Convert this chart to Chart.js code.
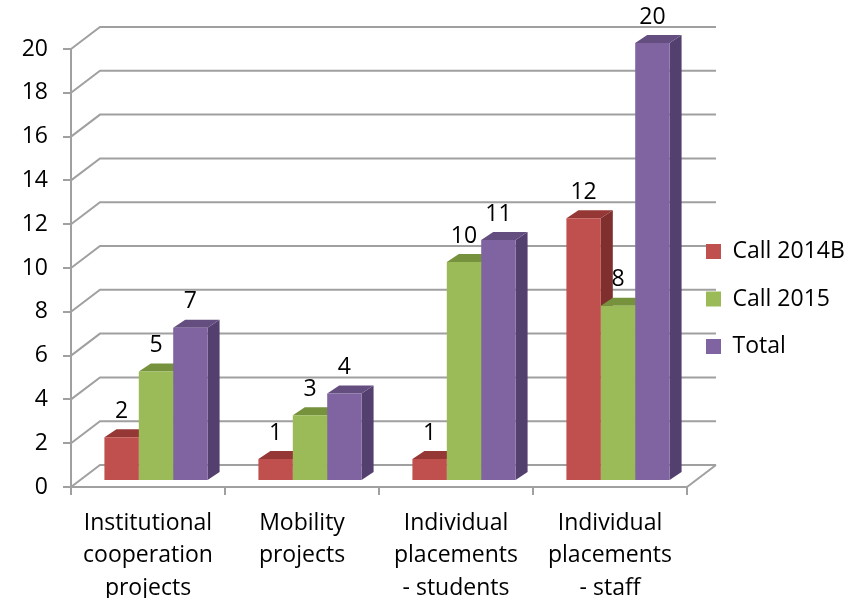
<!DOCTYPE html>
<html>
<head>
<meta charset="utf-8">
<title>Chart</title>
<script src="https://cdn.jsdelivr.net/npm/chart.js@4"></script>
<style>
    body { margin: 0; background: #fff; }
    canvas { display: block; }
</style>
</head>
<body>
<canvas id="calls-chart" width="858" height="598"></canvas>
<script>
const categories = [
    ['Institutional', 'cooperation', 'projects'],
    ['Mobility', 'projects'],
    ['Individual', 'placements', '- students'],
    ['Individual', 'placements', '- staff']
]
const call_2014b = [2, 1, 1, 12]
const call_2015 = [5, 3, 10, 8]
const total = [7, 4, 11, 20]

const font_name = '"Open Sans"'
const font_size = 23
const grid_color = '#a0a0a0'
// wall depth and bar depth of the fake 3d look
const wall = { x: 29, y: -22 }
const bar_shift = { x: 8, y: -6 }
const bar_depth = { x: 12, y: -8 }
const shades = [
    { top: '#953735', side: '#7f2f2d' },
    { top: '#76923c', side: '#647c33' },
    { top: '#644e80', side: '#54406f' }
]

function face(ctx, color, points) {
    ctx.fillStyle = color
    ctx.beginPath()
    points.forEach((p, i) => i ? ctx.lineTo(p[0], p[1]) : ctx.moveTo(p[0], p[1]))
    ctx.closePath()
    ctx.fill()
}

const walls_plugin = {
    id: 'walls',
    beforeDraw(chart) {
        const { ctx, chartArea, scales } = chart
        ctx.save()
        ctx.strokeStyle = grid_color
        ctx.lineWidth = 2
        scales.y.ticks.forEach((tick) => {
            const y = scales.y.getPixelForValue(tick.value)
            ctx.beginPath()
            ctx.moveTo(chartArea.left, y)
            ctx.lineTo(chartArea.left + wall.x, y + wall.y)
            ctx.lineTo(chartArea.right + wall.x, y + wall.y)
            ctx.stroke()
        })
        // floor edge on the right
        ctx.beginPath()
        ctx.moveTo(chartArea.right, chartArea.bottom)
        ctx.lineTo(chartArea.right + wall.x, chartArea.bottom + wall.y)
        ctx.stroke()
        ctx.restore()
    }
}

const depth_plugin = {
    id: 'depth',
    beforeDatasetsDraw(chart) {
        const ctx = chart.ctx
        ctx.save()
        ctx.translate(bar_shift.x, bar_shift.y)
        const dx = bar_depth.x
        const dy = bar_depth.y
        categories.forEach((c, i) => {
            chart.data.datasets.forEach((d, n) => {
                const bar = chart.getDatasetMeta(n).data[i]
                const left = bar.x - bar.width / 2
                const right = bar.x + bar.width / 2
                face(ctx, shades[n].side, [[right, bar.y], [right + dx, bar.y + dy], [right + dx, bar.base + dy], [right, bar.base]])
                face(ctx, shades[n].top, [[left, bar.y], [left + dx, bar.y + dy], [right + dx, bar.y + dy], [right, bar.y]])
            })
        })
    },
    afterDatasetsDraw(chart) {
        const ctx = chart.ctx
        ctx.restore()
        ctx.save()
        ctx.fillStyle = '#000'
        ctx.font = font_size + 'px ' + font_name
        ctx.textAlign = 'center'
        ctx.textBaseline = 'middle'
        chart.data.datasets.forEach((d, n) => {
            chart.getDatasetMeta(n).data.forEach((bar, i) => {
                ctx.fillText(d.data[i], bar.x + bar_shift.x, bar.y + bar_shift.y - 26)
            })
        })
        ctx.restore()
    }
}

const place_legend = {
    id: 'placeLegend',
    afterLayout(chart) {
        const legend = chart.legend
        const width = legend.right - legend.left
        const height = legend.bottom - legend.top
        legend.left = 706 - 24.5
        legend.right = legend.left + width
        legend.top = 240 - 24.5
        legend.bottom = legend.top + height
    }
}

const ctx = document.getElementById('calls-chart')
const callsChart = new Chart(ctx, {
    type: 'bar',
    data: {
        labels: categories,
        datasets: [{
            label: 'Call 2014B',
            data: call_2014b,
            backgroundColor: '#c0504d',
            clip: false
        },{
            label: 'Call 2015',
            data: call_2015,
            backgroundColor: '#9bbb59',
            clip: false
        },{
            label: 'Total',
            data: total,
            backgroundColor: '#8064a2',
            clip: false
        }]
    },
    options: {
        responsive: false,
        animation: false,
        categoryPercentage: 0.67,
        barPercentage: 1,
        layout: {
            padding: { top: 49, right: 171, left: 0, bottom: 0 }
        },
        plugins: {
            tooltip: { enabled: false },
            legend: {
                position: 'chartArea',
                align: 'start',
                labels: {
                    font: { family: font_name, size: font_size },
                    color: '#000',
                    boxWidth: 15,
                    boxHeight: 15,
                    padding: 24.5
                }
            }
        },
        scales: {
            x: {
                afterFit(scale) { scale.height = 111 },
                grid: { drawOnChartArea: false, color: grid_color, lineWidth: 2, tickLength: 8 },
                border: { color: grid_color, width: 2 },
                ticks: {
                    color: '#000',
                    font: { family: font_name, size: font_size, lineHeight: 1.41 },
                    maxRotation: 0,
                    autoSkip: false,
                    padding: 12
                }
            },
            y: {
                min: 0,
                max: 20,
                afterFit(scale) { scale.width = 71 },
                grid: { drawOnChartArea: false, color: grid_color, lineWidth: 2, tickLength: 8 },
                border: { color: grid_color, width: 2 },
                ticks: {
                    stepSize: 2,
                    color: '#000',
                    font: { family: font_name, size: font_size },
                    padding: 15
                }
            }
        }
    },
    plugins: [walls_plugin, depth_plugin, place_legend]
})
</script>
</body>
</html>
